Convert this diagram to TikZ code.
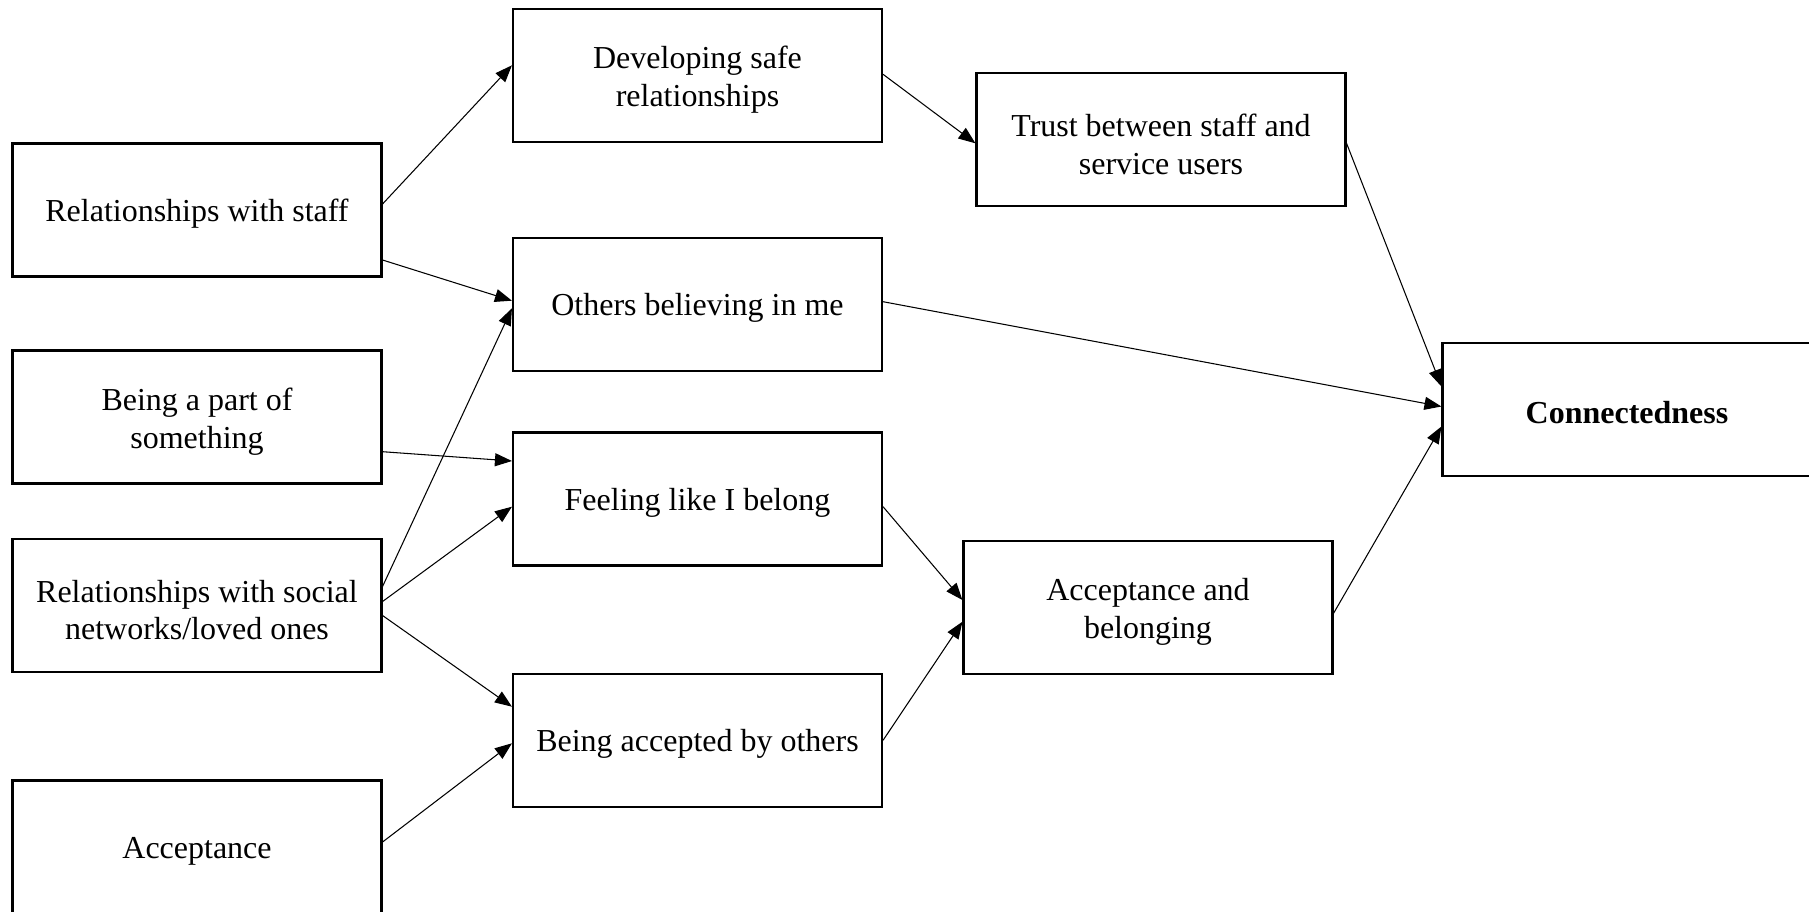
\documentclass[tikz,border=0pt]{standalone}
\usepackage{fontspec}
\setmainfont{Liberation Serif}
\usetikzlibrary{arrows.meta}
\begin{document}
\begin{tikzpicture}[font=\fontsize{9.1}{10.7}\selectfont,
  box/.style={draw, line width=0.6pt, minimum width=3.69cm, minimum height=1.33cm, inner sep=0pt, align=center},
  one/.style={box, text height=0.29cm},
  two/.style={box, text height=0.69cm},
  link/.style={line width=0.3pt, -{Triangle[length=0.17cm,width=0.13cm]}}]
          \useasboundingbox (0,0) rectangle (18.09,-9.12);
          \node[one] at (1.97,-2.10) (staff) {Relationships with staff};
          \node[two] at (1.97,-4.17) (part) {Being a part of\\something};
          \node[two] at (1.97,-6.055) (social) {Relationships with social\\networks/loved ones};
          \node[one] at (1.97,-8.47) (accept) {Acceptance};
          \node[two] at (6.975,-0.753) (develop) {Developing safe\\relationships};
          \node[one] at (6.975,-3.047) (others) {Others believing in me};
          \node[one] at (6.975,-4.99) (feeling) {Feeling like I belong};
          \node[one] at (6.975,-7.403) (accepted) {Being accepted by others};
          \node[two] at (11.61,-1.397) (trust) {Trust between staff and\\service users};
          \node[two] at (11.48,-6.073) (belong) {Acceptance and\\belonging};
          \node[one] at (16.27,-4.095) (conn) {\textbf{Connectedness}};
          \path[link] ([yshift=0.06cm]staff.east) edge ([yshift=0.10cm]develop.west);
          \path[link] ([yshift=-0.50cm]staff.east) edge ([yshift=0.04cm]others.west);
          \path[link] ([yshift=0.19cm]social.east) edge ([yshift=-0.036cm]others.west);
          \path[link] ([yshift=-0.347cm]part.east) edge ([yshift=0.38cm]feeling.west);
          \path[link] ([yshift=0.04cm]social.east) edge ([yshift=-0.077cm]feeling.west);
          \path[link] ([yshift=-0.10cm]social.east) edge ([yshift=0.336cm]accepted.west);
          \path[link] ([yshift=0.05cm]accept.east) edge ([yshift=-0.03cm]accepted.west);
          \path[link] ([yshift=0.01cm]develop.east) edge ([yshift=-0.036cm]trust.west);
          \path[link] ([yshift=0.03cm]others.east) edge ([yshift=0.03cm]conn.west);
          \path[link] ([yshift=-0.036cm]trust.east) edge ([yshift=0.23cm]conn.west);
          \path[link] ([yshift=-0.06cm]belong.east) edge ([yshift=-0.17cm]conn.west);
          \path[link] ([yshift=-0.077cm]feeling.east) edge ([yshift=0.073cm]belong.west);
          \path[link] (accepted.east) edge ([yshift=-0.144cm]belong.west);
        \end{tikzpicture}
\end{document}
